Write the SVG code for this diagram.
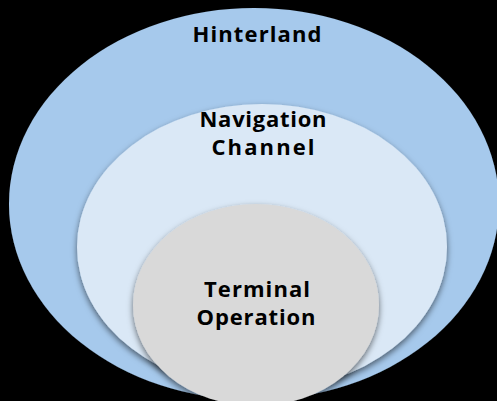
<svg xmlns="http://www.w3.org/2000/svg" width="497" height="401" viewBox="0 0 497 401">
  <defs>
    <filter id="sh" x="-10%" y="-10%" width="120%" height="125%">
      <feDropShadow dx="0" dy="3" stdDeviation="3" flood-color="#000" flood-opacity="0.55"/>
    </filter>
    <style>
      .lbl { font-family: "Open Sans", "Liberation Sans", Arial, sans-serif; font-weight: bold; font-size: 22px; fill: #000; text-anchor: middle; }
    </style>
  </defs>
  <rect width="497" height="401" fill="#000"/>
  <g id="hinterland">
    <ellipse cx="254" cy="204" rx="245" ry="196" fill="#A6C9EC" filter="url(#sh)"/>
    <text class="lbl" x="257" y="42" textLength="129" lengthAdjust="spacing">Hinterland</text>
  </g>
  <g id="navigation-channel">
    <ellipse cx="262" cy="247" rx="185" ry="143" fill="#DAE8F6" filter="url(#sh)"/>
    <text class="lbl" x="263" y="127" textLength="127" lengthAdjust="spacing">Navigation</text>
    <text class="lbl" x="263" y="155" textLength="103" lengthAdjust="spacing">Channel</text>
  </g>
  <g id="terminal-operation">
    <ellipse cx="256" cy="305" rx="123" ry="101" fill="#D9D9D9" filter="url(#sh)"/>
    <text class="lbl" x="257" y="297" textLength="106" lengthAdjust="spacing">Terminal</text>
    <text class="lbl" x="256" y="325" textLength="119" lengthAdjust="spacing">Operation</text>
  </g>
  <g id="connectors"/>
</svg>
